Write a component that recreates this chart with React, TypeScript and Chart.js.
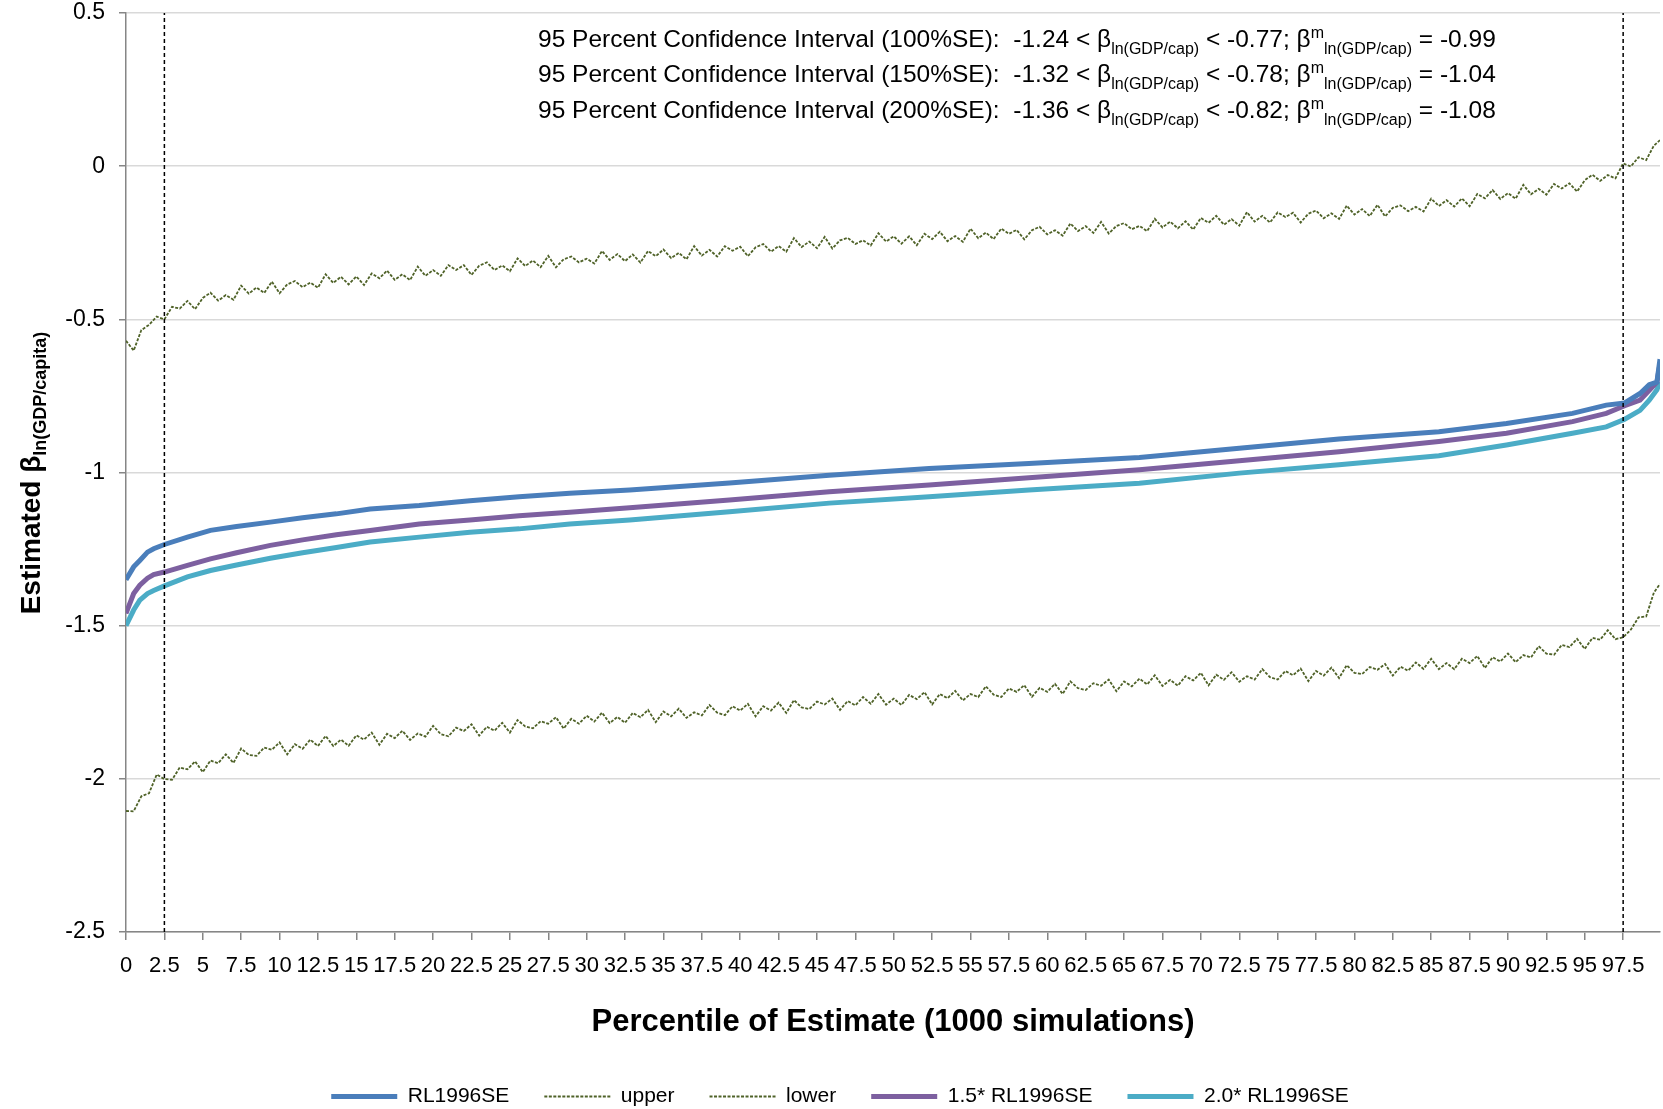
import React, { useEffect, useRef } from 'react';
import { Chart, registerables } from 'chart.js';

Chart.register(...registerables);

const FONT = '"Liberation Sans", Arial, Helvetica, sans-serif';

// ---------- data ----------
const seriesNames = ['RL1996SE', 'upper', 'lower', '1.5* RL1996SE', '2.0* RL1996SE'];

// percentiles at which the three simulated-estimate curves were read
const mainPct = [0, 0.5, 0.9, 1.4, 1.8, 2.5, 4, 5.5, 7.2, 9.4, 11.5, 13.7, 15.9, 19.1, 22.4, 25.6, 28.9, 32.8, 39.3, 45.8, 52.3, 58.8, 66.0, 72.5, 79.0, 85.5, 89.9, 94.2, 96.4, 97.6, 98.6, 99.2, 99.7, 99.9];

const rl100 = [-1.35, -1.308, -1.287, -1.26, -1.249, -1.235, -1.211, -1.189, -1.176, -1.162, -1.148, -1.135, -1.119, -1.108, -1.092, -1.079, -1.068, -1.057, -1.034, -1.009, -0.987, -0.971, -0.951, -0.921, -0.891, -0.867, -0.84, -0.807, -0.78, -0.773, -0.742, -0.713, -0.705, -0.63];
const rl150 = [-1.46, -1.395, -1.368, -1.345, -1.333, -1.325, -1.303, -1.282, -1.262, -1.238, -1.22, -1.203, -1.189, -1.168, -1.155, -1.141, -1.13, -1.115, -1.09, -1.063, -1.041, -1.017, -0.991, -0.962, -0.932, -0.899, -0.872, -0.834, -0.807, -0.782, -0.764, -0.732, -0.705, -0.645];
const rl200 = [-1.5, -1.449, -1.417, -1.395, -1.385, -1.37, -1.341, -1.32, -1.302, -1.28, -1.262, -1.245, -1.227, -1.211, -1.195, -1.184, -1.168, -1.155, -1.128, -1.1, -1.079, -1.057, -1.035, -1.002, -0.975, -0.945, -0.91, -0.872, -0.851, -0.826, -0.797, -0.764, -0.73, -0.705];

// percentiles at which the noisy upper / lower bounds were read
const bandPct = [
  0, 0.5, 1, 1.5, 2, 2.5, 3, 3.5, 4, 4.5,
  5, 5.5, 6, 6.5, 7, 7.5, 8, 8.5, 9, 9.5,
  10, 10.5, 11, 11.5, 12, 12.5, 13, 13.5, 14, 14.5,
  15, 15.5, 16, 16.5, 17, 17.5, 18, 18.5, 19, 19.5,
  20, 20.5, 21, 21.5, 22, 22.5, 23, 23.5, 24, 24.5,
  25, 25.5, 26, 26.5, 27, 27.5, 28, 28.5, 29, 29.5,
  30, 30.5, 31, 31.5, 32, 32.5, 33, 33.5, 34, 34.5,
  35, 35.5, 36, 36.5, 37, 37.5, 38, 38.5, 39, 39.5,
  40, 40.5, 41, 41.5, 42, 42.5, 43, 43.5, 44, 44.5,
  45, 45.5, 46, 46.5, 47, 47.5, 48, 48.5, 49, 49.5,
  50, 50.5, 51, 51.5, 52, 52.5, 53, 53.5, 54, 54.5,
  55, 55.5, 56, 56.5, 57, 57.5, 58, 58.5, 59, 59.5,
  60, 60.5, 61, 61.5, 62, 62.5, 63, 63.5, 64, 64.5,
  65, 65.5, 66, 66.5, 67, 67.5, 68, 68.5, 69, 69.5,
  70, 70.5, 71, 71.5, 72, 72.5, 73, 73.5, 74, 74.5,
  75, 75.5, 76, 76.5, 77, 77.5, 78, 78.5, 79, 79.5,
  80, 80.5, 81, 81.5, 82, 82.5, 83, 83.5, 84, 84.5,
  85, 85.5, 86, 86.5, 87, 87.5, 88, 88.5, 89, 89.5,
  90, 90.5, 91, 91.5, 92, 92.5, 93, 93.5, 94, 94.5,
  95, 95.5, 96, 96.5, 97, 97.5, 98, 98.5, 99, 99.5,
  99.9,
];

const upper = [
  -0.570, -0.602, -0.535, -0.518, -0.491, -0.500, -0.459, -0.465, -0.440, -0.467,
  -0.430, -0.413, -0.439, -0.421, -0.436, -0.390, -0.416, -0.396, -0.414, -0.377,
  -0.415, -0.386, -0.375, -0.395, -0.380, -0.397, -0.353, -0.381, -0.361, -0.386,
  -0.360, -0.388, -0.350, -0.366, -0.341, -0.371, -0.353, -0.372, -0.328, -0.358,
  -0.339, -0.358, -0.323, -0.339, -0.323, -0.355, -0.325, -0.314, -0.339, -0.324,
  -0.343, -0.301, -0.326, -0.308, -0.330, -0.293, -0.330, -0.304, -0.295, -0.314,
  -0.302, -0.318, -0.277, -0.306, -0.287, -0.310, -0.288, -0.315, -0.277, -0.294,
  -0.272, -0.300, -0.283, -0.304, -0.261, -0.292, -0.273, -0.295, -0.261, -0.276,
  -0.263, -0.294, -0.265, -0.254, -0.279, -0.261, -0.279, -0.235, -0.264, -0.246,
  -0.268, -0.231, -0.269, -0.242, -0.234, -0.254, -0.242, -0.259, -0.219, -0.246,
  -0.229, -0.253, -0.229, -0.258, -0.221, -0.238, -0.214, -0.245, -0.228, -0.247,
  -0.204, -0.235, -0.217, -0.238, -0.204, -0.221, -0.208, -0.239, -0.209, -0.198,
  -0.223, -0.209, -0.227, -0.187, -0.212, -0.196, -0.218, -0.182, -0.220, -0.195,
  -0.186, -0.206, -0.195, -0.212, -0.172, -0.200, -0.181, -0.203, -0.180, -0.207,
  -0.169, -0.185, -0.162, -0.191, -0.173, -0.194, -0.150, -0.181, -0.162, -0.184,
  -0.151, -0.166, -0.152, -0.184, -0.155, -0.145, -0.170, -0.154, -0.172, -0.129,
  -0.158, -0.140, -0.163, -0.126, -0.164, -0.136, -0.128, -0.147, -0.133, -0.148,
  -0.106, -0.130, -0.111, -0.132, -0.105, -0.131, -0.091, -0.105, -0.078, -0.107,
  -0.088, -0.106, -0.061, -0.092, -0.074, -0.093, -0.058, -0.073, -0.056, -0.083,
  -0.046, -0.028, -0.048, -0.029, -0.040, 0.009, -0.001, 0.029, 0.020, 0.067,
  0.085,
];

const lower = [
  -2.105, -2.106, -2.057, -2.047, -1.986, -2.001, -2.003, -1.963, -1.969, -1.943,
  -1.978, -1.940, -1.949, -1.920, -1.948, -1.901, -1.922, -1.925, -1.898, -1.905,
  -1.881, -1.920, -1.887, -1.902, -1.872, -1.893, -1.860, -1.893, -1.872, -1.892,
  -1.858, -1.872, -1.849, -1.889, -1.853, -1.867, -1.843, -1.873, -1.852, -1.862,
  -1.827, -1.854, -1.861, -1.833, -1.844, -1.822, -1.859, -1.830, -1.843, -1.817,
  -1.849, -1.808, -1.829, -1.835, -1.812, -1.820, -1.799, -1.836, -1.804, -1.820,
  -1.794, -1.813, -1.784, -1.818, -1.798, -1.817, -1.785, -1.799, -1.775, -1.815,
  -1.780, -1.796, -1.771, -1.801, -1.783, -1.793, -1.759, -1.784, -1.792, -1.763,
  -1.777, -1.755, -1.796, -1.763, -1.777, -1.751, -1.785, -1.743, -1.767, -1.772,
  -1.748, -1.757, -1.738, -1.775, -1.746, -1.760, -1.733, -1.755, -1.723, -1.758,
  -1.738, -1.759, -1.726, -1.740, -1.717, -1.757, -1.723, -1.737, -1.713, -1.744,
  -1.723, -1.733, -1.698, -1.725, -1.733, -1.705, -1.716, -1.694, -1.732, -1.703,
  -1.716, -1.690, -1.723, -1.682, -1.704, -1.710, -1.688, -1.696, -1.676, -1.714,
  -1.682, -1.698, -1.673, -1.692, -1.662, -1.697, -1.677, -1.696, -1.665, -1.679,
  -1.654, -1.695, -1.660, -1.677, -1.652, -1.683, -1.665, -1.676, -1.642, -1.668,
  -1.676, -1.648, -1.662, -1.640, -1.681, -1.648, -1.663, -1.637, -1.671, -1.629,
  -1.654, -1.658, -1.635, -1.644, -1.625, -1.663, -1.634, -1.647, -1.620, -1.641,
  -1.608, -1.642, -1.622, -1.642, -1.608, -1.622, -1.599, -1.638, -1.603, -1.617,
  -1.591, -1.619, -1.596, -1.604, -1.567, -1.591, -1.595, -1.563, -1.570, -1.543,
  -1.576, -1.540, -1.546, -1.515, -1.544, -1.538, -1.513, -1.473, -1.470, -1.392,
  -1.364,
];

// 2.5th / 97.5th percentile markers (vertical dashed lines)
const ciMarkerPct = [2.5, 97.5];
const ciMarkerSpan = [-2.5, 0.5];

// axis ticks
const xTickValues = [
  0, 2.5, 5, 7.5, 10, 12.5, 15, 17.5, 20, 22.5, 25, 27.5, 30, 32.5, 35, 37.5, 40, 42.5, 45, 47.5,
  50, 52.5, 55, 57.5, 60, 62.5, 65, 67.5, 70, 72.5, 75, 77.5, 80, 82.5, 85, 87.5, 90, 92.5, 95, 97.5,
];
const yMin = -2.5;
const yMax = 0.5;
const yStep = 0.5;

// annotation text values
const ciLabels = ['100%SE', '150%SE', '200%SE'];
const ciLow = [-1.24, -1.32, -1.36];
const ciHigh = [-0.77, -0.78, -0.82];
const ciMedian = [-0.99, -1.04, -1.08];

const xTitle = 'Percentile of Estimate (1000 simulations)';
const yTitleMain = 'Estimated β';
const yTitleSub = 'ln(GDP/capita)';

// ---------- plugins ----------
const yTitlePlugin = {
  id: 'yTitleSub',
  afterDraw(chart: any) {
    const ctx = chart.ctx as CanvasRenderingContext2D;
    ctx.save();
    ctx.fillStyle = '#000';
    ctx.textAlign = 'left';
    ctx.textBaseline = 'alphabetic';
    const mainFont = `bold 28px ${FONT}`;
    const subFont = `bold 18px ${FONT}`;
    ctx.font = mainFont;
    const w1 = ctx.measureText(yTitleMain).width;
    ctx.font = subFont;
    const w2 = ctx.measureText(yTitleSub).width;
    ctx.translate(40, 473);
    ctx.rotate(-Math.PI / 2);
    const x0 = -(w1 + w2) / 2;
    ctx.font = mainFont;
    ctx.fillText(yTitleMain, x0, 0);
    ctx.font = subFont;
    ctx.fillText(yTitleSub, x0 + w1, 6);
    ctx.restore();
  },
};

const annotationPlugin = {
  id: 'ciAnnotation',
  afterDraw(chart: any) {
    const ctx = chart.ctx as CanvasRenderingContext2D;
    ctx.save();
    ctx.fillStyle = '#000';
    ctx.textAlign = 'left';
    ctx.textBaseline = 'alphabetic';
    const baselines = [47, 82, 118];
    ciLabels.forEach((lab, i) => {
      const segs = [
        { t: `95 Percent Confidence Interval (${lab}):  ${ciLow[i].toFixed(2)} < β`, k: 'n' },
        { t: 'ln(GDP/cap)', k: 'sub' },
        { t: ` < ${ciHigh[i].toFixed(2)}; β`, k: 'n' },
        { t: 'm', k: 'sup' },
        { t: 'ln(GDP/cap)', k: 'sub' },
        { t: ` = ${ciMedian[i].toFixed(2)}`, k: 'n' },
      ];
      let x = 538;
      segs.forEach((s) => {
        ctx.font = s.k === 'n' ? `24.5px ${FONT}` : `16px ${FONT}`;
        const dy = s.k === 'sub' ? 7 : s.k === 'sup' ? -9 : 0;
        ctx.fillText(s.t, x, baselines[i] + dy);
        x += ctx.measureText(s.t).width;
      });
    });
    ctx.restore();
  },
};

const toXY = (xs: number[], ys: number[]) => xs.map((x, i) => ({ x, y: ys[i] }));

export default function App() {
  const canvasRef = useRef<HTMLCanvasElement | null>(null);

  useEffect(() => {
    const canvas = canvasRef.current;
    if (!canvas) return;
    const solid = { pointRadius: 0, pointHoverRadius: 0, borderWidth: 5, tension: 0, fill: false };
    const dashed = { pointRadius: 0, pointHoverRadius: 0, borderWidth: 1.8, borderDash: [3, 1.5], tension: 0, fill: false };
    const chart = new Chart(canvas, {
      type: 'line',
      data: {
        datasets: [
          { label: seriesNames[0], data: toXY(mainPct, rl100), borderColor: '#4A7EBB', backgroundColor: '#4A7EBB', ...solid },
          { label: seriesNames[1], data: toXY(bandPct, upper), borderColor: '#4F6228', backgroundColor: '#4F6228', ...dashed },
          { label: seriesNames[2], data: toXY(bandPct, lower), borderColor: '#4F6228', backgroundColor: '#4F6228', ...dashed },
          { label: seriesNames[3], data: toXY(mainPct, rl150), borderColor: '#7D60A0', backgroundColor: '#7D60A0', ...solid },
          { label: seriesNames[4], data: toXY(mainPct, rl200), borderColor: '#4BACC6', backgroundColor: '#4BACC6', ...solid },
          {
            label: 'p2.5',
            data: ciMarkerSpan.map((y) => ({ x: ciMarkerPct[0], y })),
            borderColor: '#000', borderWidth: 1.5, borderDash: [4, 3], pointRadius: 0, pointHoverRadius: 0, order: -1,
          },
          {
            label: 'p97.5',
            data: ciMarkerSpan.map((y) => ({ x: ciMarkerPct[1], y })),
            borderColor: '#000', borderWidth: 1.5, borderDash: [4, 3], pointRadius: 0, pointHoverRadius: 0, order: -1,
          },
        ] as any,
      },
      options: {
        animation: false,
        responsive: true,
        maintainAspectRatio: false,
        events: [],
        layout: { padding: { top: 13, right: 3, bottom: -8, left: 20 } },
        plugins: {
          legend: {
            position: 'bottom',
            labels: {
              usePointStyle: true,
              pointStyle: 'line',
              pointStyleWidth: 66,
              padding: 35,
              color: '#000',
              font: { family: FONT, size: 21 },
              generateLabels: (ch: any) => {
                const items = (Chart as any).defaults.plugins.legend.labels.generateLabels(ch);
                return items
                  .filter((it: any) => it.datasetIndex < 5)
                  .map((it: any) => {
                    const ds: any = ch.data.datasets[it.datasetIndex];
                    return {
                      ...it,
                      pointStyle: 'line',
                      lineWidth: ds.borderWidth,
                      strokeStyle: ds.borderColor,
                      fillStyle: ds.borderColor,
                      lineDash: ds.borderDash || [],
                    };
                  });
              },
            },
          },
          tooltip: { enabled: false },
        },
        scales: {
          x: {
            type: 'linear',
            min: 0,
            max: 99.9,
            afterBuildTicks: (scale: any) => {
              scale.ticks = xTickValues.map((v) => ({ value: v }));
            },
            afterFit: (scale: any) => {
              scale.height = 119;
            },
            ticks: {
              autoSkip: false,
              maxRotation: 0,
              minRotation: 0,
              padding: 13,
              color: '#000',
              font: { family: FONT, size: 22 },
              callback: (v: any) => String(v),
            },
            grid: { drawOnChartArea: false, drawTicks: true, tickLength: 8, tickColor: '#868686', lineWidth: 1.5 },
            border: { color: '#868686', width: 1.5 },
            title: {
              display: true,
              text: xTitle,
              color: '#000',
              font: { family: FONT, size: 31, weight: 'bold' },
              padding: { top: 8, bottom: 10 },
            },
          },
          y: {
            type: 'linear',
            min: yMin,
            max: yMax,
            afterFit: (scale: any) => {
              scale.width = 106;
              scale.paddingTop = 0;
              scale.paddingBottom = 0;
            },
            ticks: {
              stepSize: yStep,
              padding: 14,
              color: '#000',
              font: { family: FONT, size: 23 },
              callback: (v: any) => String(v),
            },
            grid: { color: '#D9D9D9', lineWidth: 1.5, tickColor: '#868686', tickLength: 7 },
            border: { color: '#868686', width: 1.5 },
          },
        },
      } as any,
      plugins: [yTitlePlugin, annotationPlugin],
    });
    return () => chart.destroy();
  }, []);

  return (
    <div style={{ position: 'fixed', left: 0, top: 0, width: 1663, height: 1109, background: '#fff' }}>
      <canvas ref={canvasRef} style={{ display: 'block' }} />
    </div>
  );
}
